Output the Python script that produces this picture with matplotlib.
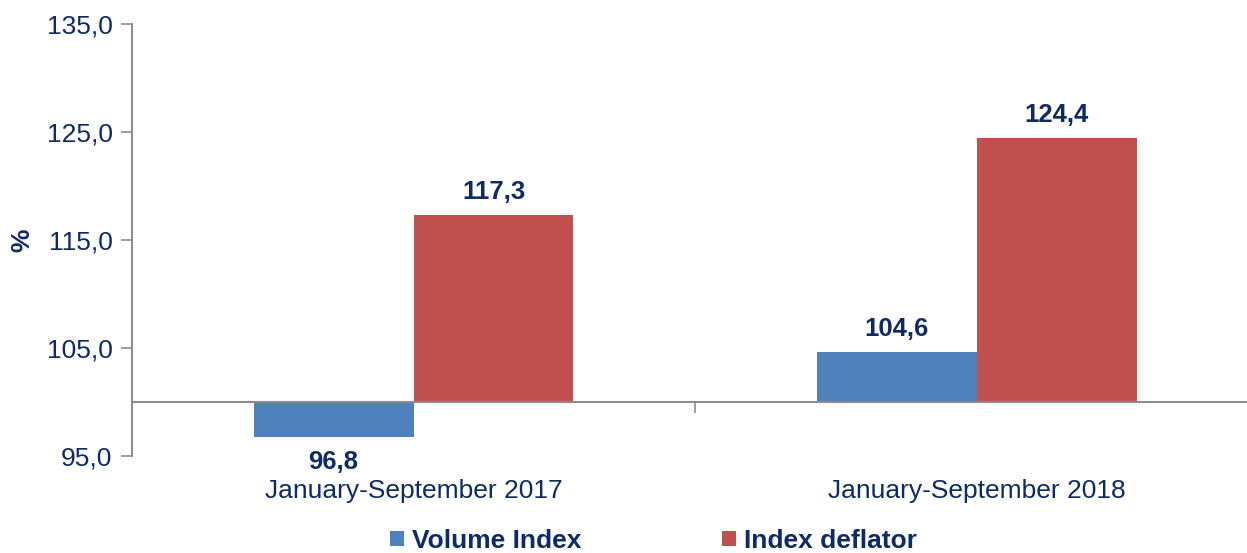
import numpy as np
import matplotlib
matplotlib.use("Agg")
import matplotlib.pyplot as plt

plt.rcParams["font.family"] = ["Liberation Sans", "DejaVu Sans"]

categories = ["January-September 2017", "January-September 2018"]
volume_index = [96.8, 104.6]
index_deflator = [117.3, 124.4]
series_names = ["Volume Index", "Index deflator"]
yticks = [95, 105, 115, 125, 135]

base = 100
txt = "#0E2A68"
blue = "#4F81BD"
red = "#C0504D"
grey = "#8C8C8C"

fig = plt.figure(figsize=(12.47, 5.53), dpi=100)
ax = fig.add_axes([132 / 1247, 1 - 456 / 553, 1 - 132 / 1247, (456 - 24) / 553])

x = np.arange(len(categories))
w = 0.284
vol = np.array(volume_index)
dfl = np.array(index_deflator)
b1 = ax.bar(x - w / 2, vol - base, w, bottom=base, color=blue, label=series_names[0])
b2 = ax.bar(x + w / 2, dfl - base, w, bottom=base, color=red, label=series_names[1])

for xi, v in zip(x - w / 2, vol):
    off, va = (8, "bottom") if v >= base else (-10, "top")
    ax.annotate(f"{v:.1f}".replace(".", ","), (xi, v), xytext=(0, off),
                textcoords="offset points", ha="center", va=va,
                fontsize=18.5, fontweight="bold", color=txt)
for xi, v in zip(x + w / 2, dfl):
    ax.annotate(f"{v:.1f}".replace(".", ","), (xi, v), xytext=(0, 8),
                textcoords="offset points", ha="center", va="bottom",
                fontsize=18.5, fontweight="bold", color=txt)

ax.set_xlim(-0.5, 1.48)
ax.set_ylim(95, 135)
ax.set_yticks(yticks)
ax.set_yticklabels([f"{t:.1f}".replace(".", ",") for t in yticks])
ax.tick_params(axis="y", length=8, width=1.2, color=grey, labelsize=19,
               labelcolor=txt, pad=6)

ax.spines["top"].set_visible(False)
ax.spines["right"].set_visible(False)
ax.spines["left"].set_color(grey)
ax.spines["left"].set_linewidth(1.5)
ax.spines["bottom"].set_position(("data", base))
ax.spines["bottom"].set_color(grey)
ax.spines["bottom"].set_linewidth(1.5)
ax.set_xticks([])
ax.set_xticks([0.5], minor=True)
ax.tick_params(axis="x", which="minor", length=8, width=1.2, color=grey,
               labelbottom=False)

for xi, c in zip(x, categories):
    ax.text(xi, -0.08, c, transform=ax.get_xaxis_transform(), ha="center",
            va="center", fontsize=19, color=txt)

fig.text(22 / 1247, 1 - 240 / 553, "%", rotation=90, ha="center", va="center",
         fontsize=19, fontweight="bold", color=txt)

leg = fig.legend(handles=[b1, b2], loc="center", bbox_to_anchor=(0.524, 0.022),
                 ncol=2, frameon=False, handlelength=0.55, handleheight=0.55,
                 handletextpad=0.3, columnspacing=5.3,
                 prop={"size": 19, "weight": "bold"})
for t in leg.get_texts():
    t.set_color(txt)

fig.savefig("out.png", dpi=100)
